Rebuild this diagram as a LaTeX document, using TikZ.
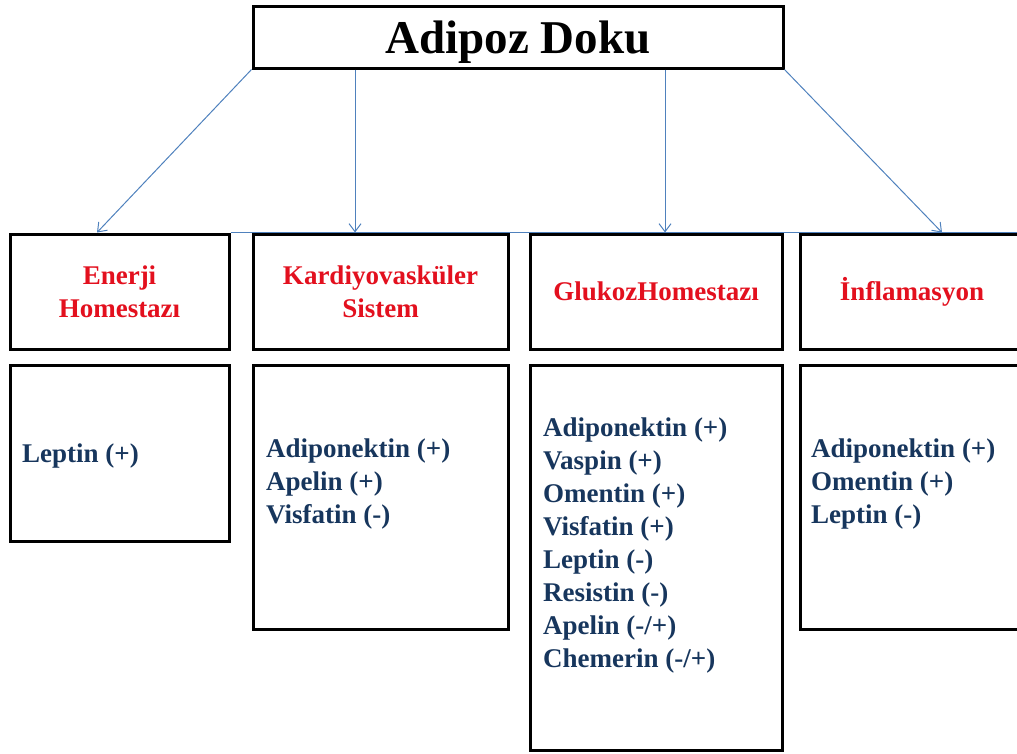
\documentclass[tikz,border=0pt]{standalone}
\usepackage{fontspec}
\setmainfont{Liberation Serif}
\usetikzlibrary{arrows.meta,backgrounds}
\definecolor{linkblue}{HTML}{4F81BD}
\definecolor{headred}{HTML}{E3101E}
\definecolor{listblue}{HTML}{17365D}
\begin{document}
\begin{tikzpicture}[x=1pt, y=-1pt,
    box/.style = {draw, line width=3pt, fill=white, inner sep=0pt},
    head/.style = {box, font=\bfseries\fontsize{27}{33}\selectfont, text=headred, align=center},
    list/.style = {font=\bfseries\fontsize{27}{33}\selectfont, text=listblue, align=left, anchor=west, inner sep=0pt},
    link/.style = {draw=linkblue, line width=1pt, -{Straight Barb[length=8pt,width=12pt]}}]
        \clip (0,0) rectangle (1017,753);

        \node[box, minimum width=530, minimum height=62, text depth=0pt, font=\bfseries\fontsize{47}{47}\selectfont] at (518,37) (doku) {Adipoz Doku};

        \node[head, minimum width=219, minimum height=115] at (119.5,291.5) (h1) {Enerji\\Homestazı};
        \node[head, minimum width=255, minimum height=115] at (380.5,291.5) (h2) {Kardiyovasküler\\Sistem};
        \node[head, minimum width=252, minimum height=115] at (656,291.5) (h3) {GlukozHomestazı};
        \node[head, minimum width=224, minimum height=115] at (912,291.5) (h4) {İnflamasyon};

        \node[box, minimum width=219, minimum height=176] at (119.5,453) (b1) {};
        \node[box, minimum width=255, minimum height=264] at (380.5,497) (b2) {};
        \node[box, minimum width=252, minimum height=385] at (656,557.5) (b3) {};
        \node[box, minimum width=224, minimum height=264] at (912,497) (b4) {};

        \node[list] at (22,456) (l1) {Leptin (+)};
        \node[list] at (266,484) (l2) {Adiponektin (+)\\Apelin (+)\\Visfatin (-)};
        \node[list] at (543,545) (l3) {Adiponektin (+)\\Vaspin (+)\\Omentin (+)\\Visfatin (+)\\Leptin (-)\\Resistin (-)\\Apelin (-/+)\\Chemerin (-/+)};
        \node[list] at (811,484) (l4) {Adiponektin (+)\\Omentin (+)\\Leptin (-)};

        \draw[link] (doku.south west) -- ([xshift=-22.5]h1.north);
        \draw[link] ([xshift=-163]doku.south) -- ([xshift=-25.5]h2.north);
        \draw[link] ([xshift=147]doku.south) -- ([xshift=9]h3.north);
        \draw[link] (doku.south east) -- ([xshift=30]h4.north);

        \begin{scope}[on background layer]
            \draw[linkblue, line width=1pt] (h1.north east) -- (h4.north east);
        \end{scope}
    \end{tikzpicture}
\end{document}
